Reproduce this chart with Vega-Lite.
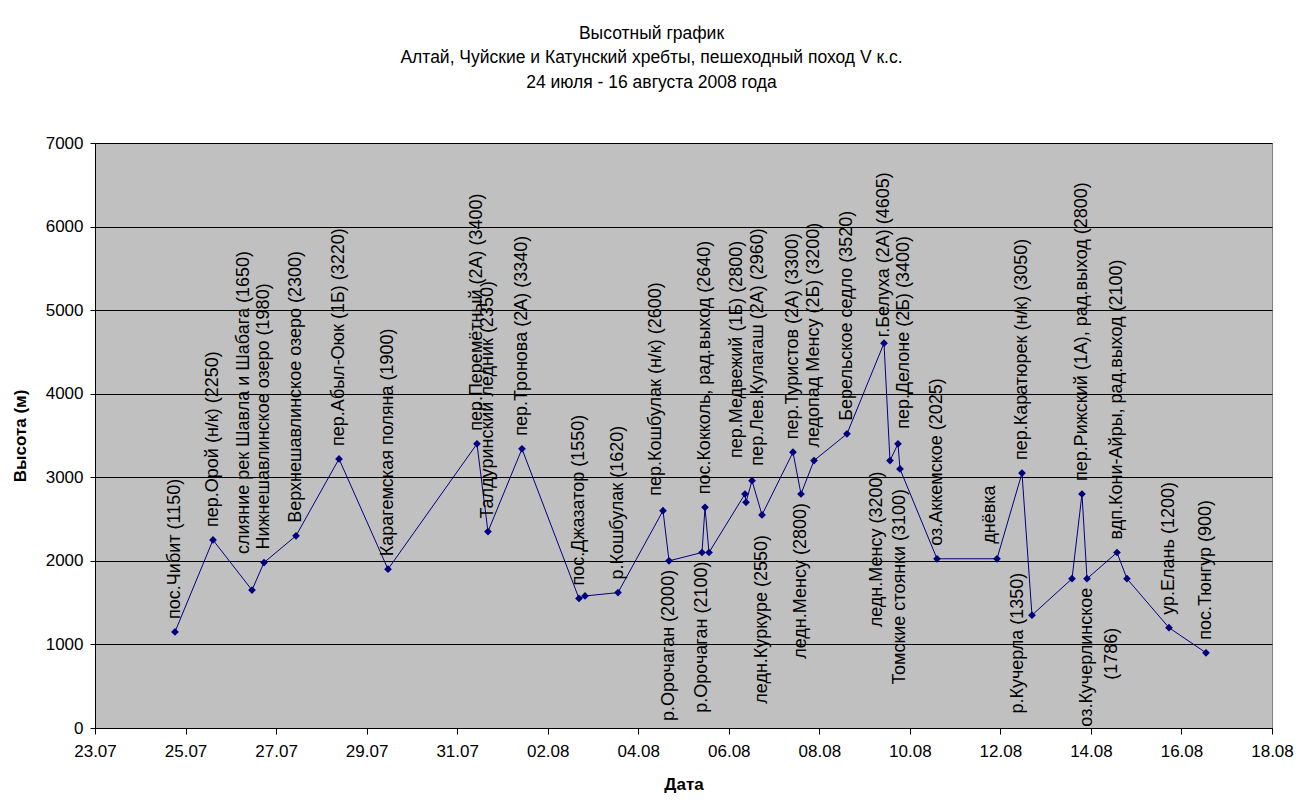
{
  "$schema": "https://vega.github.io/schema/vega-lite/v6.json",
  "width": 1177,
  "height": 585,
  "autosize": {"type": "none"},
  "padding": {"left": 95, "top": 143, "right": 40, "bottom": 77},
  "background": "white",
  "config": {
    "font": "Liberation Sans",
    "view": {"fill": "#C0C0C0", "stroke": "#808080", "strokeWidth": 1},
    "text": {"angle": 270, "baseline": "middle", "fontSize": 18, "color": "black"}
  },
  "title": {
    "text": ["Высотный график", "Алтай, Чуйские и Катунский хребты, пешеходный поход V к.с.", "24 июля - 16 августа 2008 года"],
    "fontSize": 17.5,
    "fontWeight": "normal",
    "lineHeight": 24.5,
    "anchor": "middle",
    "dx": -32,
    "offset": 43,
    "font": "Liberation Sans",
    "color": "black"
  },
  "data": {
    "values": [
      {"date": "2008-07-24T18:24", "alt": 1150, "label": "пос.Чибит (1150)", "pos": "up"},
      {"date": "2008-07-25T14:34", "alt": 2250, "label": "пер.Орой (н/к) (2250)", "pos": "up"},
      {"date": "2008-07-26T11:14", "alt": 1650, "label": "слияние рек Шавла и Шабага (1650)", "pos": "upL"},
      {"date": "2008-07-26T17:36", "alt": 1980, "label": "Нижнешавлинское озеро (1980)", "pos": "up"},
      {"date": "2008-07-27T10:34", "alt": 2300, "label": "Верхнешавлинское озеро (2300)", "pos": "up"},
      {"date": "2008-07-28T09:22", "alt": 3220, "label": "пер.Абыл-Оюк (1Б) (3220)", "pos": "up"},
      {"date": "2008-07-29T11:20", "alt": 1900, "label": "Карагемская поляна (1900)", "pos": "up"},
      {"date": "2008-07-31T10:30", "alt": 3400, "label": "пер.Перемётный (2А) (3400)", "pos": "up"},
      {"date": "2008-07-31T16:20", "alt": 2350, "label": "Талдуринский ледник (2350)", "pos": "up"},
      {"date": "2008-08-01T10:22", "alt": 3340, "label": "пер.Тронова (2А) (3340)", "pos": "up"},
      {"date": "2008-08-02T16:35", "alt": 1550, "label": "пос.Джазатор (1550)", "pos": "up"},
      {"date": "2008-08-02T19:47", "alt": 1580, "label": "", "pos": "none"},
      {"date": "2008-08-03T13:16", "alt": 1620, "label": "р.Кошбулак (1620)", "pos": "up"},
      {"date": "2008-08-04T13:08", "alt": 2600, "label": "пер.Кошбулак (н/к) (2600)", "pos": "upl"},
      {"date": "2008-08-04T16:19", "alt": 2000, "label": "р.Орочаган (2000)", "pos": "down"},
      {"date": "2008-08-05T09:48", "alt": 2100, "label": "р.Орочаган (2100)", "pos": "down"},
      {"date": "2008-08-05T11:24", "alt": 2640, "label": "пос.Кокколь, рад.выход (2640)", "pos": "up"},
      {"date": "2008-08-05T13:31", "alt": 2100, "label": "", "pos": "none"},
      {"date": "2008-08-06T08:36", "alt": 2800, "label": "пер.Медвежий (1Б) (2800)", "pos": "upL"},
      {"date": "2008-08-06T09:08", "alt": 2700, "label": "", "pos": "none"},
      {"date": "2008-08-06T12:19", "alt": 2960, "label": "пер.Лев.Кулагаш (2А) (2960)", "pos": "upR"},
      {"date": "2008-08-06T17:37", "alt": 2550, "label": "ледн.Куркуре (2550)", "pos": "downFar"},
      {"date": "2008-08-07T10:03", "alt": 3300, "label": "пер.Туристов (2А) (3300)", "pos": "up"},
      {"date": "2008-08-07T14:17", "alt": 2800, "label": "ледн.Менсу (2800)", "pos": "down"},
      {"date": "2008-08-07T21:11", "alt": 3200, "label": "ледопад Менсу (2Б) (3200)", "pos": "up"},
      {"date": "2008-08-08T14:40", "alt": 3520, "label": "Берельское седло (3520)", "pos": "up"},
      {"date": "2008-08-09T10:18", "alt": 4605, "label": "г.Белуха (2А) (4605)", "pos": "upNear"},
      {"date": "2008-08-09T13:28", "alt": 3200, "label": "ледн.Менсу (3200)", "pos": "downL"},
      {"date": "2008-08-09T17:43", "alt": 3400, "label": "пер.Делоне (2Б) (3400)", "pos": "upR"},
      {"date": "2008-08-09T18:46", "alt": 3100, "label": "Томские стоянки (3100)", "pos": "downFar"},
      {"date": "2008-08-10T14:24", "alt": 2025, "label": "оз.Аккемское (2025)", "pos": "up"},
      {"date": "2008-08-11T22:12", "alt": 2025, "label": "днёвка", "pos": "upl"},
      {"date": "2008-08-12T11:27", "alt": 3050, "label": "пер.Каратюрек (н/к) (3050)", "pos": "up"},
      {"date": "2008-08-12T16:45", "alt": 1350, "label": "р.Кучерла (1350)", "pos": "left"},
      {"date": "2008-08-13T13:58", "alt": 1786, "label": "", "pos": "none"},
      {"date": "2008-08-13T19:16", "alt": 2800, "label": "пер.Рижский (1А), рад.выход (2800)", "pos": "up"},
      {"date": "2008-08-13T21:55", "alt": 1786, "label": "оз.Кучерлинское", "label2": "(1786)", "pos": "down"},
      {"date": "2008-08-14T13:49", "alt": 2100, "label": "вдп.Кони-Айры, рад.выход (2100)", "pos": "up"},
      {"date": "2008-08-14T19:07", "alt": 1786, "label": "", "pos": "none"},
      {"date": "2008-08-15T17:24", "alt": 1200, "label": "ур.Елань (1200)", "pos": "up"},
      {"date": "2008-08-16T13:00", "alt": 900, "label": "пос.Тюнгур (900)", "pos": "up"}
    ]
  },
  "encoding": {
    "x": {
      "field": "date",
      "type": "temporal",
      "scale": {"domain": [{"year": 2008, "month": 7, "date": 23}, {"year": 2008, "month": 8, "date": 18}]},
      "axis": {
        "values": [
          {"year": 2008, "month": 7, "date": 23}, {"year": 2008, "month": 7, "date": 25},
          {"year": 2008, "month": 7, "date": 27}, {"year": 2008, "month": 7, "date": 29},
          {"year": 2008, "month": 7, "date": 31}, {"year": 2008, "month": 8, "date": 2},
          {"year": 2008, "month": 8, "date": 4}, {"year": 2008, "month": 8, "date": 6},
          {"year": 2008, "month": 8, "date": 8}, {"year": 2008, "month": 8, "date": 10},
          {"year": 2008, "month": 8, "date": 12}, {"year": 2008, "month": 8, "date": 14},
          {"year": 2008, "month": 8, "date": 16}, {"year": 2008, "month": 8, "date": 18}
        ],
        "format": "%d.%m",
        "title": "Дата",
        "grid": false,
        "labelFlush": false,
        "labelOverlap": false,
        "labelFontSize": 17,
        "labelColor": "black",
        "labelPadding": 9,
        "tickSize": 6,
        "tickColor": "black",
        "domainColor": "black",
        "titleFontSize": 17,
        "titleFontWeight": "bold",
        "titleColor": "black",
        "titlePadding": 17
      }
    },
    "y": {
      "field": "alt",
      "type": "quantitative",
      "scale": {"domain": [0, 7000]},
      "axis": {
        "values": [0, 1000, 2000, 3000, 4000, 5000, 6000, 7000],
        "format": "d",
        "title": "Высота (м)",
        "grid": true,
        "gridColor": "black",
        "gridOpacity": 1,
        "labelFontSize": 17,
        "labelColor": "black",
        "labelPadding": 7,
        "tickSize": 5,
        "tickColor": "black",
        "domainColor": "black",
        "titleFontSize": 17,
        "titleFontWeight": "bold",
        "titleColor": "black",
        "titlePadding": 16
      }
    }
  },
  "layer": [
    {"mark": {"type": "line", "color": "#000080", "strokeWidth": 1}},
    {"mark": {"type": "point", "shape": "diamond", "filled": true, "color": "#000080", "size": 60, "opacity": 1}},
    {
      "transform": [{"filter": "datum.pos === 'up'"}],
      "mark": {"type": "text", "align": "left", "dx": 13},
      "encoding": {"text": {"field": "label"}}
    },
    {
      "transform": [{"filter": "datum.pos === 'upL'"}],
      "mark": {"type": "text", "align": "left", "dx": 36, "dy": -8},
      "encoding": {"text": {"field": "label"}}
    },
    {
      "transform": [{"filter": "datum.pos === 'upl'"}],
      "mark": {"type": "text", "align": "left", "dx": 15, "dy": -7},
      "encoding": {"text": {"field": "label"}}
    },
    {
      "transform": [{"filter": "datum.pos === 'upR'"}],
      "mark": {"type": "text", "align": "left", "dx": 15, "dy": 6},
      "encoding": {"text": {"field": "label"}}
    },
    {
      "transform": [{"filter": "datum.pos === 'upNear'"}],
      "mark": {"type": "text", "align": "left", "dx": 6},
      "encoding": {"text": {"field": "label"}}
    },
    {
      "transform": [{"filter": "datum.pos === 'down'"}],
      "mark": {"type": "text", "align": "right", "dx": -9},
      "encoding": {"text": {"field": "label"}}
    },
    {
      "transform": [{"filter": "datum.pos === 'downFar'"}],
      "mark": {"type": "text", "align": "right", "dx": -20},
      "encoding": {"text": {"field": "label"}}
    },
    {
      "transform": [{"filter": "datum.pos === 'downL'"}],
      "mark": {"type": "text", "align": "right", "dx": -11, "dy": -13},
      "encoding": {"text": {"field": "label"}}
    },
    {
      "transform": [{"filter": "datum.pos === 'left'"}],
      "mark": {"type": "text", "align": "center", "dx": -28, "dy": -14},
      "encoding": {"text": {"field": "label"}}
    },
    {
      "transform": [{"filter": "datum.label2 != null"}],
      "mark": {"type": "text", "align": "center", "dx": -75, "dy": 25},
      "encoding": {"text": {"field": "label2"}}
    }
  ]
}
